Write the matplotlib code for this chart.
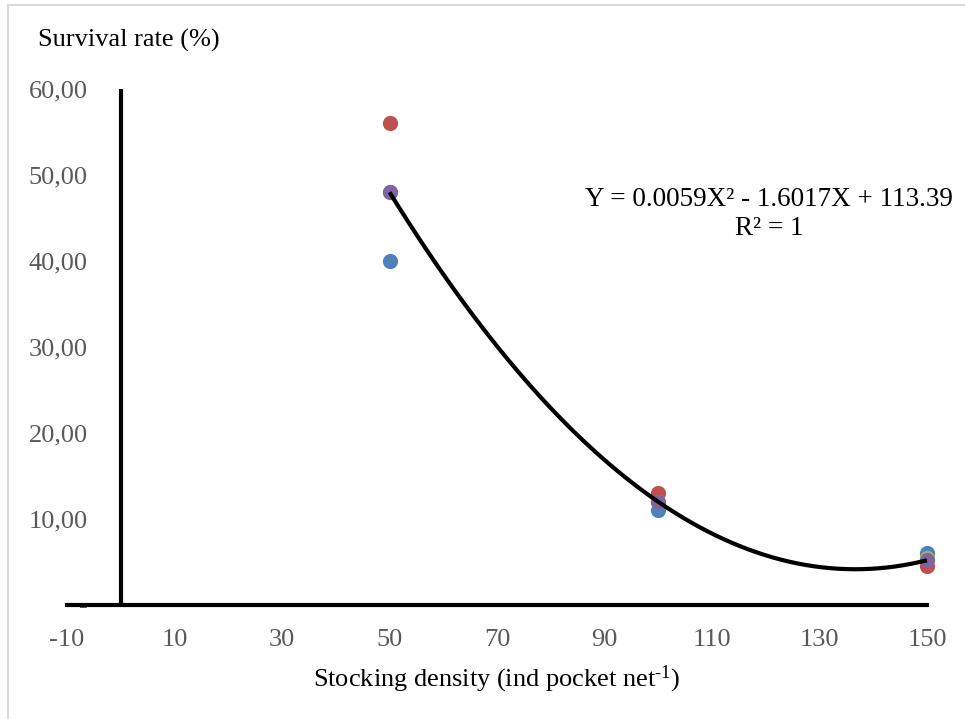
import numpy as np
import matplotlib
matplotlib.use("Agg")
import matplotlib.pyplot as plt
from matplotlib.lines import Line2D

plt.rcParams["font.family"] = ["Liberation Serif", "DejaVu Serif"]
plt.rcParams["mathtext.fontset"] = "custom"
plt.rcParams["mathtext.rm"] = "Liberation Serif"
plt.rcParams["mathtext.it"] = "Liberation Serif:italic"

# stocking density (ind pocket net-1)
density = [50, 100, 150]

# survival rate (%) per replicate
rep_blue = [40.0, 11.0, 6.0]
rep_red = [56.0, 13.0, 4.5]
rep_green = [48.0, 12.0, 5.5]
rep_purple = [48.0, 12.0, 5.2]

series = [rep_blue, rep_red, rep_green, rep_purple]
colors = ["#4F81BD", "#C0504D", "#9BBB59", "#8064A2"]

xticks = [-10, 10, 30, 50, 70, 90, 110, 130, 150]
yticks = [0, 10, 20, 30, 40, 50, 60]
ytick_labels = ["-", "10,00", "20,00", "30,00", "40,00", "50,00", "60,00"]

fig = plt.figure(figsize=(9.65, 7.19), dpi=100)
ax = fig.add_axes([67 / 965, 114 / 719, 860 / 965, 516 / 719])

for vals, col in zip(series, colors):
    ax.scatter(density, vals, s=120, color=col, zorder=3, clip_on=False, linewidths=0)

# second order trendline through the mean series
coef = np.polyfit(density, rep_purple, 2)
xs = np.linspace(min(density), max(density), 200)
ax.plot(xs, np.polyval(coef, xs), color="black", lw=3, zorder=4, clip_on=False,
        solid_capstyle="butt")

# vertical axis crosses at x = 0
ax.plot([0, 0], [0, 60], color="black", lw=3, zorder=2, clip_on=False,
        solid_capstyle="butt")

ax.set_xlim(-10, 150)
ax.set_ylim(0, 60)
ax.set_xticks(xticks)
ax.set_xticklabels([str(t) for t in xticks])
ax.set_yticks(yticks)
ax.set_yticklabels(ytick_labels)
for s in ["top", "right", "left"]:
    ax.spines[s].set_visible(False)
ax.spines["bottom"].set_linewidth(3)
ax.spines["bottom"].set_color("black")
ax.tick_params(axis="x", length=0, pad=17, labelsize=19, labelcolor="#595959")
ax.tick_params(axis="y", length=0, pad=-15, labelsize=19, labelcolor="#595959")
ax.patch.set_alpha(0)

fig.text(38 / 965, 1 - 40 / 719, "Survival rate (%)", fontsize=19, ha="left", va="center")
fig.text(497 / 965, 1 - 679 / 719, r"Stocking density (ind pocket net$^{\text{-1}}$)",
         fontsize=19, ha="center", va="center")

fig.text(769 / 965, 1 - 200 / 719, "Y = 0.0059X² - 1.6017X + 113.39",
         fontsize=19.5, ha="center", va="center")
fig.text(769 / 965, 1 - 229 / 719, "R² = 1", fontsize=19.5, ha="center", va="center")

# light frame of the chart area
fig.add_artist(Line2D([8 / 965, 1], [1 - 5 / 719, 1 - 5 / 719], color="#D9D9D9", lw=1.5))
fig.add_artist(Line2D([8 / 965, 8 / 965], [0, 1 - 5 / 719], color="#D9D9D9", lw=1.5))

fig.savefig("out.png", dpi=100)
